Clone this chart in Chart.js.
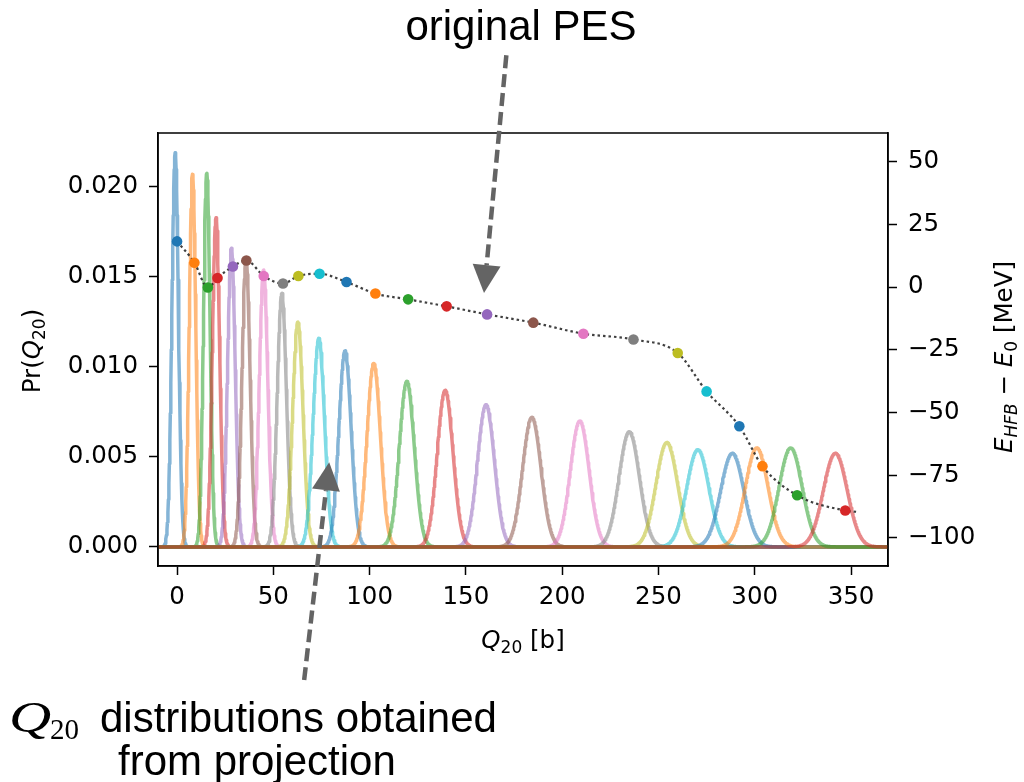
<!DOCTYPE html>
<html>
<head>
<meta charset="utf-8">
<script src="https://cdn.jsdelivr.net/npm/chart.js@4/dist/chart.umd.min.js"></script>
<style>
  html, body { margin: 0; padding: 0; background: #fff; }
  canvas { display: block; }
</style>
</head>
<body>
<canvas id="pesChart" width="1024" height="782"></canvas>
<script>
// Q20 distributions (Gaussian peaks): centre [b], height, width sigma [b]
var peakQ = [-1, 8, 15.4, 20.2, 28.2, 35.8, 44.9, 54.4, 62.7, 73.6, 87.2, 102.1,
             119.3, 139.2, 160.4, 184.2, 209.1, 234.8, 254.3, 270.4, 288.3, 301.0, 318.6, 341.8];
var peakH = [0.0219, 0.0207, 0.0208, 0.0183, 0.0166, 0.0160, 0.0154, 0.0141, 0.0125, 0.0116, 0.0109, 0.0102,
             0.0092, 0.0087, 0.0079, 0.0072, 0.0070, 0.0064, 0.0058, 0.0054, 0.0052, 0.0055, 0.0055, 0.0052];
var peakW = [1.7, 1.7, 1.7, 1.9, 2.0, 2.1, 2.2, 2.4, 2.7, 3.0, 3.2, 3.5,
             3.9, 4.1, 4.4, 4.8, 4.9, 5.3, 5.6, 5.8, 6.0, 5.9, 6.0, 6.2];

// original PES points: Q20 [b] and E_HFB - E_0 [MeV]
var pesQ = [0, 9, 16, 21, 29, 36, 45, 55, 63, 74, 88, 103, 120, 140, 161, 185, 211, 237, 260, 275, 292, 304, 322, 347];
var pesE = [18.2, 9.7, -0.2, 3.6, 8.2, 10.6, 4.4, 1.4, 4.4, 5.3, 2.0, -2.6,
            -4.9, -7.7, -10.9, -14.2, -18.6, -20.9, -26.3, -41.6, -55.5, -71.4, -83.0, -89.1];
// dotted PES curve runs a little past the last point
var pesLineQ = pesQ.concat([353]);
var pesLineE = pesE.concat([-89.6]);

// axis ticks
var xTicks = [0, 50, 100, 150, 200, 250, 300, 350];
var xTickLabels = ['0', '50', '100', '150', '200', '250', '300', '350'];
var prTicks = [0, 0.005, 0.010, 0.015, 0.020];
var prTickLabels = ['0.000', '0.005', '0.010', '0.015', '0.020'];
var eTicks = [-100, -75, -50, -25, 0, 25, 50];
var eTickLabels = ['\u2212100', '\u221275', '\u221250', '\u221225', '0', '25', '50'];

var tab10 = ['#1f77b4', '#ff7f0e', '#2ca02c', '#d62728', '#9467bd',
             '#8c564b', '#e377c2', '#7f7f7f', '#bcbd22', '#17becf'];

function withAlpha(hex, a) {
    var n = parseInt(hex.slice(1), 16);
    return 'rgba(' + (n >> 16) + ',' + ((n >> 8) & 255) + ',' + (n & 255) + ',' + a + ')';
}

// sampling grid for the distribution curves
var qGrid = [];
for (var q = -10; q <= 370; q += 0.25) qGrid.push(q);

var datasets = [];

datasets.push({
    label: 'PES points',
    data: pesQ.map(function(v, i) { return { x: v, y: pesE[i] }; }),
    yAxisID: 'y1',
    showLine: false,
    pointRadius: 5.3,
    pointHoverRadius: 5.3,
    pointBorderWidth: 0,
    pointBackgroundColor: pesQ.map(function(v, i) { return tab10[i % 10]; }),
    order: 0
});

datasets.push({
    label: 'PES',
    data: pesLineQ.map(function(v, i) { return { x: v, y: pesLineE[i] }; }),
    yAxisID: 'y1',
    borderColor: 'rgba(30,30,30,0.85)',
    borderWidth: 2.2,
    borderDash: [2.5, 3],
    cubicInterpolationMode: 'monotone',
    pointRadius: 0,
    order: 1
});

peakQ.forEach(function(c, i) {
    var h = peakH[i], s = peakW[i];
    datasets.push({
        label: 'Pr ' + i,
        data: qGrid.map(function(x) {
            var d = (x - c) / s;
            return { x: x, y: h * Math.exp(-0.5 * d * d) };
        }),
        yAxisID: 'y',
        borderColor: withAlpha(tab10[i % 10], 0.55),
        borderWidth: 3.5,
        borderJoinStyle: 'round',
        borderCapStyle: 'round',
        pointRadius: 0,
        tension: 0,
        order: 100 - i
    });
});

var tickFont = { family: 'DejaVu Sans', size: 24.5 };

function axisStyle() {
    return {
        grid: { drawOnChartArea: false, drawTicks: true, tickLength: 9, tickColor: '#000', tickWidth: 1.5 },
        border: { display: true, color: '#000', width: 1.5 }
    };
}

// mixed-style text runs: [text, font, baseline shift]
function drawRuns(ctx, runs, x, y, rot, align) {
    ctx.save();
    ctx.translate(x, y);
    if (rot) ctx.rotate(rot);
    ctx.fillStyle = '#000';
    ctx.textBaseline = 'alphabetic';
    ctx.textAlign = 'left';
    var total = 0;
    runs.forEach(function(r) { ctx.font = r[1]; total += ctx.measureText(r[0]).width; });
    var cx = align === 'center' ? -total / 2 : 0;
    runs.forEach(function(r) {
        ctx.font = r[1];
        ctx.fillText(r[0], cx, r[2] || 0);
        cx += ctx.measureText(r[0]).width;
    });
    ctx.restore();
}

function dashedArrow(ctx, x0, y0, x1, y1) {
    var dx = x1 - x0, dy = y1 - y0, len = Math.sqrt(dx * dx + dy * dy);
    var ux = dx / len, uy = dy / len, head = 28, half = 14;
    var bx = x1 - ux * head, by = y1 - uy * head;
    ctx.save();
    ctx.strokeStyle = '#646464';
    ctx.fillStyle = '#646464';
    ctx.lineWidth = 4.5;
    ctx.setLineDash([13, 6]);
    ctx.beginPath();
    ctx.moveTo(x0, y0);
    ctx.lineTo(bx, by);
    ctx.stroke();
    ctx.setLineDash([]);
    ctx.beginPath();
    ctx.moveTo(x1, y1);
    ctx.lineTo(bx - uy * half, by + ux * half);
    ctx.lineTo(bx + uy * half, by - ux * half);
    ctx.closePath();
    ctx.fill();
    ctx.restore();
}

var M = '24.5px "DejaVu Sans"';
var MI = 'italic 24.5px "DejaVu Sans"';
var MS = '17px "DejaVu Sans"';
var MSI = 'italic 17px "DejaVu Sans"';

var labelsPlugin = {
    id: 'labels',
    afterDraw: function(chart) {
        var ctx = chart.ctx, a = chart.chartArea;
        var sx = chart.scales.x, sy = chart.scales.y, se = chart.scales.y1;

        // frame
        ctx.save();
        ctx.strokeStyle = '#000';
        ctx.lineWidth = 1.5;
        ctx.strokeRect(a.left, a.top, a.right - a.left, a.bottom - a.top);
        ctx.restore();

        // axis titles
        drawRuns(ctx, [['Pr(', M], ['Q', MI], ['20', MS, 5], [')', M]], 40, 351, -Math.PI / 2, 'center');
        drawRuns(ctx, [['Q', MI], ['20', MS, 5], [' [b]', M]], 523, 648, 0, 'center');
        drawRuns(ctx, [['E', MI], ['HFB', MSI, 5], [' \u2212 ', M], ['E', MI], ['0', MS, 5], [' [MeV]', M]],
                 1012, 357, -Math.PI / 2, 'center');

        // annotations
        ctx.save();
        ctx.fillStyle = '#000';
        ctx.font = '42px "Liberation Sans"';
        ctx.textAlign = 'center';
        ctx.textBaseline = 'alphabetic';
        ctx.fillText('original PES', 521, 40);
        ctx.textAlign = 'left';
        ctx.fillText('distributions obtained', 100, 732);
        ctx.fillText('from projection', 118, 775);
        ctx.font = '29px "Liberation Serif"';
        ctx.fillText('20', 50, 739);
        ctx.translate(9, 732);
        ctx.scale(1.3, 1);
        ctx.font = 'italic 45px "Liberation Serif"';
        ctx.fillText('Q', 0, 0);
        ctx.restore();

        dashedArrow(ctx, sx.getPixelForValue(171), se.getPixelForValue(92.4),
                    sx.getPixelForValue(159.4), se.getPixelForValue(-2.4));
        dashedArrow(ctx, sx.getPixelForValue(66), sy.getPixelForValue(-0.0074),
                    sx.getPixelForValue(79), sy.getPixelForValue(0.0047));
    }
};

var ctx = document.getElementById('pesChart').getContext('2d');
var chart = new Chart(ctx, {
    type: 'line',
    data: { datasets: datasets },
    options: {
        responsive: false,
        animation: false,
        parsing: false,
        normalized: true,
        layout: { padding: { top: 133, left: 0, right: 0, bottom: 0 } },
        plugins: {
            legend: { display: false },
            tooltip: { enabled: false }
        },
        scales: {
            x: Object.assign(axisStyle(), {
                type: 'linear',
                min: -9.9,
                max: 369.2,
                afterFit: function(s) { s.height = 216; },
                afterBuildTicks: function(s) { s.ticks = xTicks.map(function(v) { return { value: v }; }); },
                ticks: {
                    font: tickFont, color: '#000', padding: 8, maxRotation: 0,
                    callback: function(v) { return xTickLabels[xTicks.indexOf(v)]; }
                }
            }),
            y: Object.assign(axisStyle(), {
                type: 'linear',
                position: 'left',
                min: -0.00106,
                max: 0.0230,
                afterFit: function(s) { s.width = 158; },
                afterBuildTicks: function(s) { s.ticks = prTicks.map(function(v) { return { value: v }; }); },
                ticks: {
                    font: tickFont, color: '#000', padding: 11,
                    callback: function(v) { return prTickLabels[prTicks.indexOf(v)]; }
                }
            }),
            y1: Object.assign(axisStyle(), {
                type: 'linear',
                position: 'right',
                min: -111.2,
                max: 61.4,
                afterFit: function(s) { s.width = 136; },
                afterBuildTicks: function(s) { s.ticks = eTicks.map(function(v) { return { value: v }; }); },
                ticks: {
                    font: tickFont, color: '#000', padding: 11,
                    callback: function(v) { return eTickLabels[eTicks.indexOf(v)]; }
                }
            })
        }
    },
    plugins: [labelsPlugin]
});
</script>
</body>
</html>
